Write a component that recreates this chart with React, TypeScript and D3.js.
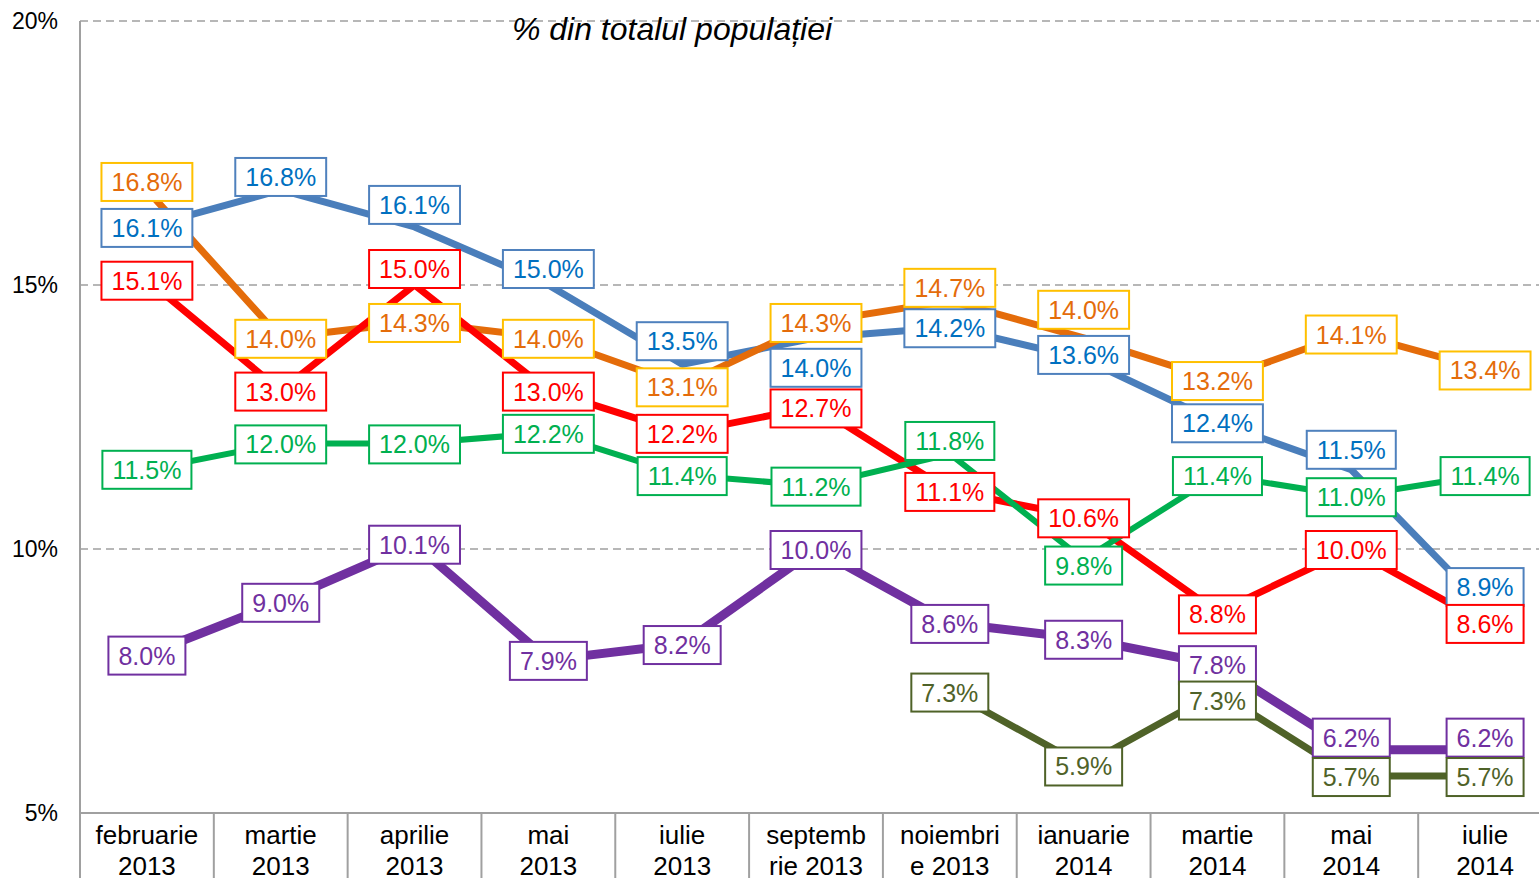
import { useEffect, useRef } from "react";
import * as d3 from "d3";

const categories = [
  "februarie 2013", "martie 2013", "aprilie 2013", "mai 2013", "iulie 2013",
  "septembrie 2013", "noiembrie 2013", "ianuarie 2014", "martie 2014", "mai 2014", "iulie 2014",
];
const tickLines = [
  ["februarie", "2013"], ["martie", "2013"], ["aprilie", "2013"], ["mai", "2013"], ["iulie", "2013"],
  ["septemb", "rie 2013"], ["noiembri", "e 2013"], ["ianuarie", "2014"], ["martie", "2014"], ["mai", "2014"], ["iulie", "2014"],
];
const yTicks = [5, 10, 15, 20];
const gridTicks = [10, 15, 20];

const blueValues = [16.1, 16.8, 16.1, 15.0, 13.5, 14.0, 14.2, 13.6, 12.4, 11.5, 8.9];
const orangeValues = [16.8, 14.0, 14.3, 14.0, 13.1, 14.3, 14.7, 14.0, 13.2, 14.1, 13.4];
const redValues = [15.1, 13.0, 15.0, 13.0, 12.2, 12.7, 11.1, 10.6, 8.8, 10.0, 8.6];
const greenValues = [11.5, 12.0, 12.0, 12.2, 11.4, 11.2, 11.8, 9.8, 11.4, 11.0, 11.4];
const purpleValues = [8.0, 9.0, 10.1, 7.9, 8.2, 10.0, 8.6, 8.3, 7.8, 6.2, 6.2];
const oliveValues = [null, null, null, null, null, null, 7.3, 5.9, 7.3, 5.7, 5.7];

// label nudges (px) so the boxes don't pile up, like the original layout
const blueShift = [1, -13, -22, -16, -23, 30, 1, -4, 1, -20, -20];
const orangeShift = [-8, 1, 1, 1, 2, 1, -13, -28, 1, 2, 1];
const redShift = [1, 1, -16, 1, 1, 2, 1, 1, 2, 1, 1];
const greenShift = [0, 1, 1, 1, 1, 1, -13, 6, 1, 1, 1];
const purpleShift = [1, 1, 1, 1, 1, 1, 1, 1, 0, -12, -12];
const oliveShift = [0, 0, 0, 0, 0, 0, 1, 1, 9, 1, 1];

const FONT = "'Liberation Sans', Arial, sans-serif";

export default function App() {
  const ref = useRef<SVGSVGElement>(null);

  useEffect(() => {
    const svg = d3.select(ref.current);
    svg.selectAll("*").remove();
    const width = 1539;
    const height = 878;

    const x = d3.scaleBand().domain(categories).range([80, 1552]);
    const y = d3.scaleLinear().domain([5, 20]).range([813, 21]);
    const cx = (i: number) => (x(categories[i]) as number) + x.bandwidth() / 2;

    const series = [
      { values: blueValues, shift: blueShift, line: "#4a7ebb", text: "#0070c0", border: "#4f81bd", w: 7 },
      { values: orangeValues, shift: orangeShift, line: "#e46c0a", text: "#e46c0a", border: "#ffc000", w: 7 },
      { values: redValues, shift: redShift, line: "#ff0000", text: "#ff0000", border: "#ff0000", w: 7 },
      { values: greenValues, shift: greenShift, line: "#00b050", text: "#00b050", border: "#00b050", w: 6 },
      { values: purpleValues, shift: purpleShift, line: "#7030a0", text: "#7030a0", border: "#7030a0", w: 9 },
      { values: oliveValues, shift: oliveShift, line: "#4f6228", text: "#4f6228", border: "#4f6228", w: 7 },
    ];

    // grid
    svg.append("g").selectAll("line").data(gridTicks).join("line")
      .attr("x1", 80).attr("x2", width)
      .attr("y1", d => y(d)).attr("y2", d => y(d))
      .attr("stroke", "#a0a0a0").attr("stroke-width", 1.5)
      .attr("stroke-dasharray", "8,5");

    // axes
    svg.append("line").attr("x1", 80).attr("x2", 80).attr("y1", y(20)).attr("y2", height)
      .attr("stroke", "#a0a0a0").attr("stroke-width", 2);
    svg.append("line").attr("x1", 80).attr("x2", width).attr("y1", y(5)).attr("y2", y(5))
      .attr("stroke", "#a0a0a0").attr("stroke-width", 2);
    svg.append("g").selectAll("line").data(categories.slice(1)).join("line")
      .attr("x1", d => x(d) as number).attr("x2", d => x(d) as number)
      .attr("y1", y(5)).attr("y2", height)
      .attr("stroke", "#a0a0a0").attr("stroke-width", 2);

    svg.append("g").selectAll("text").data(yTicks).join("text")
      .attr("x", 58).attr("y", d => y(d)).attr("dy", "0.35em")
      .attr("text-anchor", "end").attr("font-family", FONT).attr("font-size", 23)
      .text(d => d + "%");

    const tl = svg.append("g").attr("font-family", FONT).attr("font-size", 26).attr("text-anchor", "middle");
    tickLines.forEach((lines, i) => {
      lines.forEach((s, j) => {
        tl.append("text").attr("x", cx(i)).attr("y", 844 + j * 31).text(s);
      });
    });

    // title
    svg.append("text").attr("x", 672).attr("y", 40).attr("text-anchor", "middle")
      .attr("font-family", FONT).attr("font-size", 32).attr("font-style", "italic")
      .text("% din totalul populației");

    // lines
    series.forEach(s => {
      const line = d3.line<number | null>()
        .defined(d => d !== null)
        .x((_, i) => cx(i))
        .y(d => y(d as number));
      svg.append("path").datum(s.values).attr("d", line)
        .attr("fill", "none").attr("stroke", s.line).attr("stroke-width", s.w)
        .attr("stroke-linejoin", "round");
    });

    // labels
    const fmt = d3.format(".1f");
    series.forEach(s => {
      s.values.forEach((v, i) => {
        if (v === null) return;
        const g = svg.append("g").attr("transform", `translate(${cx(i)},${y(v) + s.shift[i]})`);
        const rect = g.append("rect");
        const t = g.append("text").attr("text-anchor", "middle").attr("dy", "0.36em")
          .attr("font-family", FONT).attr("font-size", 25).attr("fill", s.text)
          .text(fmt(v) + "%");
        const tw = (t.node() as SVGTextElement).getComputedTextLength();
        const bw = tw + 20;
        rect.attr("x", -bw / 2).attr("y", -19).attr("width", bw).attr("height", 38)
          .attr("fill", "#fff").attr("stroke", s.border).attr("stroke-width", 2);
      });
    });
  }, []);

  return (
    <div style={{ position: "absolute", left: 0, top: 0 }}>
      <svg ref={ref} width={1539} height={878} style={{ display: "block", background: "#fff" }} />
    </div>
  );
}
